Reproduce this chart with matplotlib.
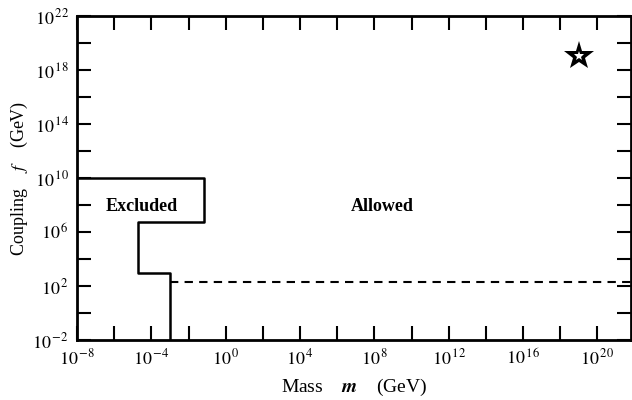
import numpy as np
import matplotlib
matplotlib.use('Agg')
from matplotlib import pyplot as plt
from matplotlib.ticker import FixedLocator, FixedFormatter

plt.rcParams['font.family'] = ['Liberation Serif', 'DejaVu Serif']
plt.rcParams['mathtext.fontset'] = 'stix'

# excluded region boundary (mass in GeV, coupling in GeV)
bound_m = [1e-8, 10**-1.15, 10**-1.15, 10**-4.7, 10**-4.7, 1e-3, 1e-3]
bound_f = [1e10, 1e10, 10**6.75, 10**6.75, 1e3, 1e3, 1e-2]

# dashed line
dash_m = [1e-3, 10**21.8]
dash_f = [10**2.3, 10**2.3]

# star (Planck scale)
star_m = [1e19]
star_f = [1e19]

x_ticks = [10.0**k for k in range(-8, 22, 2)]
x_labels = ['$10^{\\,{%d}}$' % k if k % 4 == 0 else '' for k in range(-8, 22, 2)]
y_ticks = [10.0**k for k in range(-2, 23, 2)]
y_labels = ['$10^{\\,{%d}}$' % k if (k + 2) % 4 == 0 else '' for k in range(-2, 23, 2)]

fig = plt.figure(figsize=(6.32, 4.0), dpi=100)
ax = fig.add_axes([0.122, 0.15, 0.876, 0.81])

ax.plot(bound_m, bound_f, color='black', lw=1.8)
ax.plot(dash_m, dash_f, color='black', lw=1.5, ls=(0, (4, 3)))
ax.plot(star_m, star_f, marker='*', ms=22, mfc='black', mec='black', mew=0, ls='none')
ax.plot(star_m, star_f, marker='*', ms=7, mfc='white', mec='white', mew=0, ls='none')

ax.set_xscale('log')
ax.set_yscale('log')
ax.set_xlim(1e-8, 10**21.8)
ax.set_ylim(1e-2, 1e22)

ax.xaxis.set_major_locator(FixedLocator(x_ticks))
ax.xaxis.set_major_formatter(FixedFormatter(x_labels))
ax.yaxis.set_major_locator(FixedLocator(y_ticks))
ax.yaxis.set_major_formatter(FixedFormatter(y_labels))
ax.minorticks_off()
ax.tick_params(direction='in', length=10, width=1.5, top=True, right=True,
               labelsize=13, pad=6)

for s in ax.spines.values():
    s.set_linewidth(2)

ax.text(10**-4.5, 10**7.9, 'Excluded', fontsize=13, fontweight='bold', ha='center', va='center')
ax.text(10**8.4, 10**7.9, 'Allowed', fontsize=13, fontweight='bold', ha='center', va='center')

ax.set_xlabel('Mass    $\\boldsymbol{m}$    (GeV)', fontsize=14, labelpad=6)
ax.set_ylabel('Coupling    $f$    (GeV)', fontsize=13, labelpad=2)

plt.savefig('out.png', dpi=100)
